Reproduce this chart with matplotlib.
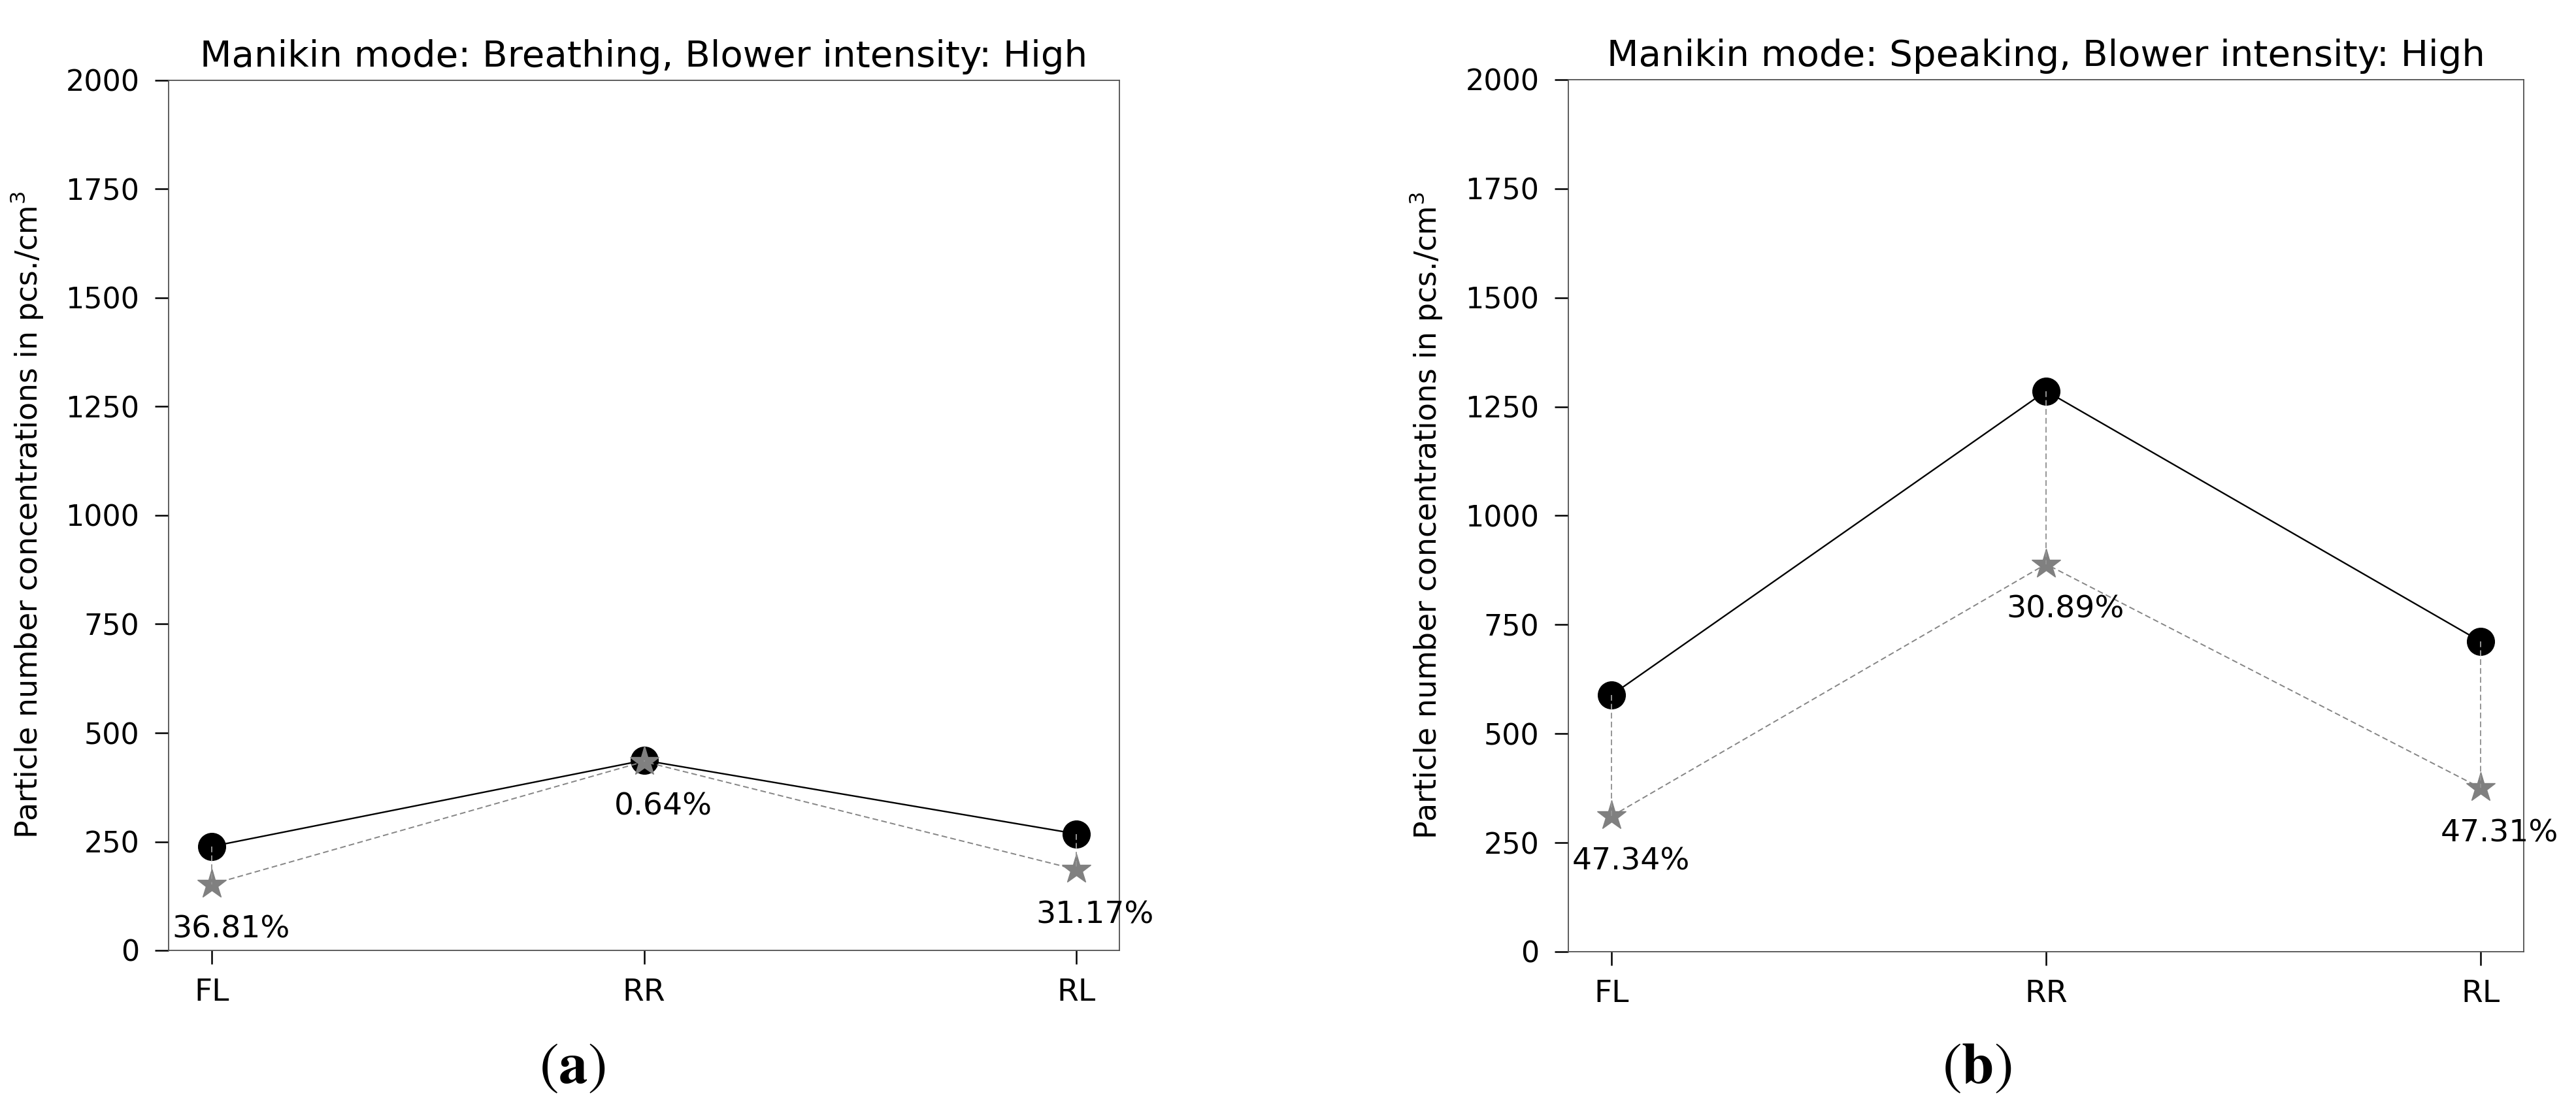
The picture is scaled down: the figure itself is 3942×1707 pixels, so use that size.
import matplotlib
matplotlib.use('Agg')
import matplotlib.pyplot as plt

# ---- data ----
positions = ['FL', 'RR', 'RL']
breathing_before = [239, 437, 268]
breathing_after = [152, 434, 186]
breathing_pct = ['36.81%', '0.64%', '31.17%']
speaking_before = [589, 1286, 712]
speaking_after = [311, 889, 376]
speaking_pct = ['47.34%', '30.89%', '47.31%']
titles = ['Manikin mode: Breathing, Blower intensity: High',
          'Manikin mode: Speaking, Blower intensity: High']
panel_labels = [r'$(\mathbf{a})$', r'$(\mathbf{b})$']
yticks = [0, 250, 500, 750, 1000, 1250, 1500, 1750, 2000]
ylabel = r'Particle number concentrations in pcs./cm$^3$'

W, H = 3942, 1707
fig = plt.figure(figsize=(W / 100, H / 100), dpi=100)
ax_rects = [[258 / W, 1 - 1455 / H, 1455 / W, 1332 / H],
            [2400 / W, 1 - 1457 / H, 1462 / W, 1335 / H]]
label_x = [876 / W, 3025 / W]

series = [(breathing_before, breathing_after, breathing_pct),
          (speaking_before, speaking_after, speaking_pct)]

dash = (0, (4.5, 2.5))
for k, (before, after, pct) in enumerate(series):
    ax = fig.add_axes(ax_rects[k])
    x = list(range(len(positions)))
    ax.plot(x, before, color='black', lw=1.7, marker='o', ms=30, zorder=3)
    ax.plot(x, after, color='#858585', lw=1.4, linestyle=dash, marker='*',
            ms=34, markerfacecolor='#808080', markeredgecolor='#808080', zorder=4)
    for i in x:
        ax.plot([i, i], [before[i], after[i]], color='#959595', lw=1.4,
                linestyle=dash, zorder=5)
        ax.text(i + 0.044, after[i] - 123, pct[i], ha='center', va='baseline',
                fontsize=34, zorder=6)
    ax.set_xticks(x)
    ax.set_xticklabels(positions)
    ax.set_ylim(0, 2000)
    ax.set_yticks(yticks)
    ax.set_title(titles[k], fontsize=40.5, pad=15)
    ax.set_ylabel(ylabel, fontsize=33)
    ax.yaxis.set_label_coords(-0.130, 0.5)
    ax.tick_params(axis='both', direction='out', length=15, width=1.8, color='black')
    ax.tick_params(axis='y', labelsize=32, pad=17)
    ax.tick_params(axis='x', labelsize=34, pad=15.5)
    for sp in ax.spines.values():
        sp.set_linewidth(1.3)
        sp.set_color('#505050')
    fig.text(label_x[k], 1 - 1658 / H, panel_labels[k], math_fontfamily='stix',
             fontsize=64, ha='center', va='baseline')

fig.savefig('out.png', dpi=100)
